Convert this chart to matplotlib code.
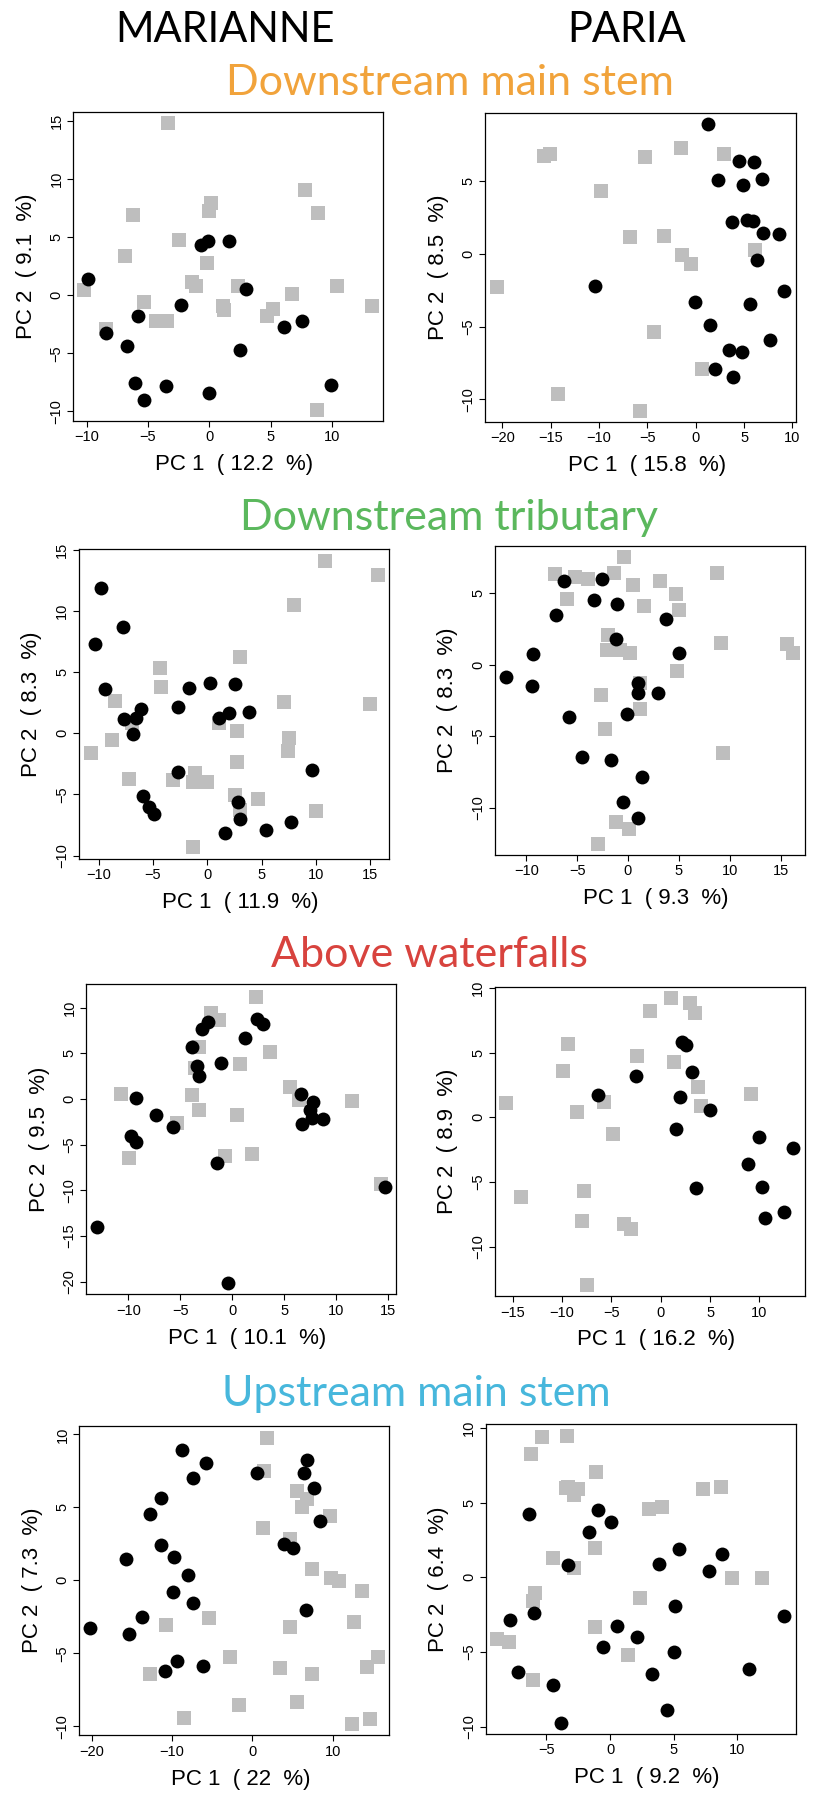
import matplotlib
matplotlib.use('Agg')
import matplotlib.pyplot as plt
from matplotlib.ticker import MultipleLocator

# ---- data: PCA scores (gray squares / black circles) ----
# Marianne, downstream main stem
mar_dms_sq_x = [-3.41, 7.79, 8.86, 0.11, -0.05, -6.19, -2.48, -6.84, -0.22, -1.39, -1.09, 2.32, -10.19,
                10.41, 6.73, -5.37, 1.09, 1.20, 13.27, 5.18, 4.69, -8.47, -4.39, -3.49, 8.77]
mar_dms_sq_y = [14.81, 9.05, 7.05, 7.88, 7.25, 6.88, 4.73, 3.38, 2.75, 1.09, 0.77, 0.77, 0.43,
                0.77, 0.09, -0.60, -0.92, -1.29, -0.95, -1.17, -1.78, -2.95, -2.23, -2.23, -9.89]
mar_dms_ci_x = [-9.92, -0.65, -0.11, 1.58, 2.97, -2.34, -5.80, -8.45, -6.73, -6.08, -5.37, -3.54, 0.00,
                2.53, 6.13, 7.55, 9.92]
mar_dms_ci_y = [1.38, 4.30, 4.64, 4.67, 0.54, -0.89, -1.81, -3.27, -4.41, -7.54, -9.03, -7.79, -8.40,
                -4.76, -2.75, -2.23, -7.74]

# Paria, downstream main stem
par_dms_sq_x = [-15.69, -15.10, -5.24, -1.52, 2.93, -9.83, -6.83, -3.31, -1.41, -0.52, 6.10, -20.55,
                -4.34, 0.66, -14.24, -5.76]
par_dms_sq_y = [6.77, 6.88, 6.67, 7.29, 6.90, 4.36, 1.19, 1.26, -0.05, -0.67, 0.28, -2.25,
                -5.37, -7.89, -9.61, -10.78]
par_dms_ci_x = [1.24, 4.45, 6.07, 2.34, 4.93, 6.86, 3.79, 5.28, 5.97, 6.97, 8.66, 6.38, -10.41, 9.14,
                -0.10, 5.59, 1.52, 7.66, 3.48, 4.79, 2.00, 3.83]
par_dms_ci_y = [8.97, 6.40, 6.31, 5.07, 4.77, 5.14, 2.20, 2.34, 2.27, 1.44, 1.40, -0.44, -2.20, -2.52,
                -3.30, -3.44, -4.89, -5.92, -6.63, -6.77, -7.91, -8.46]

# Marianne, downstream tributary
mar_dt_sq_x = [10.83, 15.67, 7.94, 2.98, -4.39, -4.29, -8.53, 7.06, 14.94, 1.04, -6.96, 2.70, -8.77,
               7.48, 7.39, -10.74, 2.70, -7.21, -3.19, -1.13, -1.29, -0.06, 2.55, 4.63, 3.04, 9.97, -1.35]
mar_dt_sq_y = [14.11, 12.94, 10.49, 6.27, 5.34, 3.79, 2.64, 2.59, 2.43, 0.82, 0.87, 0.22, -0.54,
               -0.35, -1.47, -1.58, -2.32, -3.71, -3.81, -3.27, -4.01, -4.01, -5.04, -5.34, -6.27, -6.35, -9.26]
mar_dt_ci_x = [-9.75, -7.79, -10.37, -9.45, -6.10, -6.53, -7.70, -6.84, -2.67, -1.66, 0.28, 2.58, 1.10,
               1.96, 3.80, -2.73, -5.89, -5.34, -4.94, 9.66, 2.85, 2.98, 1.66, 5.37, 7.70]
mar_dt_ci_y = [11.88, 8.66, 7.30, 3.60, 1.99, 1.25, 1.14, -0.08, 2.13, 3.71, 4.09, 4.06, 1.23,
               1.69, 1.77, -3.16, -5.15, -5.99, -6.62, -3.02, -5.61, -6.98, -8.12, -7.87, -7.28]

# Paria, downstream tributary
par_dt_sq_x = [-0.43, -7.18, -5.25, -3.97, -1.41, 8.75, 3.11, 0.46, 4.72, -6.03, 1.54, 4.98, -1.97, 9.15,
               15.64, 16.23, -2.03, -0.79, 0.16, 4.79, 1.18, -2.66, 1.18, -2.26, 9.31, -1.18, 0.10, -2.95]
par_dt_sq_y = [7.53, 6.34, 6.13, 6.01, 6.43, 6.43, 5.85, 5.55, 4.94, 4.57, 4.10, 3.85, 2.07, 1.52,
               1.45, 0.84, 1.03, 1.03, 0.82, -0.44, -1.26, -2.12, -3.08, -4.50, -6.18, -10.98, -11.52, -12.52]
par_dt_ci_x = [-6.30, -2.59, -3.31, -1.11, -7.08, 3.77, -1.18, -9.38, 5.05, -12.0, -9.41, 0.95, 0.98,
               2.92, -5.77, -0.13, -4.52, -1.64, 1.41, -0.52, 0.98]
par_dt_ci_y = [5.83, 6.01, 4.55, 4.24, 3.45, 3.17, 1.79, 0.72, 0.79, -0.86, -1.47, -1.26, -2.00,
               -1.96, -3.66, -3.43, -6.46, -6.64, -7.86, -9.60, -10.75]

# Marianne, above waterfalls
mar_aw_sq_x = [2.28, -2.05, -1.25, -3.21, 3.62, 0.74, -3.59, 5.51, -10.71, -3.88, 6.44, 11.47, -3.21,
               0.42, -5.35, -9.94, -0.71, 1.89, 14.26]
mar_aw_sq_y = [11.17, 9.45, 8.65, 5.69, 5.15, 3.87, 3.36, 1.31, 0.58, 0.44, -0.07, -0.18, -1.20,
               -1.72, -2.59, -6.46, -6.24, -5.99, -9.34]
mar_aw_ci_x = [-2.37, -2.92, 2.34, 2.98, 1.22, -3.85, -3.40, -3.17, -1.06, -9.29, -7.34, -5.74, -9.78,
               -9.26, 6.63, 7.72, 7.50, 7.66, 8.72, 6.73, -1.47, 14.68, -12.98, -0.45]
mar_aw_ci_y = [8.47, 7.66, 8.80, 8.18, 6.72, 5.69, 3.61, 2.55, 3.98, 0.11, -1.79, -3.03, -4.09,
               -4.67, 0.55, -0.29, -1.17, -2.04, -2.15, -2.70, -7.04, -9.64, -14.05, -20.15]

# Paria, above waterfalls
par_aw_sq_x = [1.05, 2.94, 3.45, -1.08, -9.39, -2.40, 1.35, -9.90, 3.78, 9.16, -15.68, -5.78, -8.48,
               4.09, -4.83, -7.77, -14.16, -7.97, -3.72, -3.04, -7.47]
par_aw_sq_y = [9.23, 8.87, 8.09, 8.22, 5.67, 4.74, 4.28, 3.58, 2.35, 1.83, 1.13, 1.21, 0.41,
               0.90, -1.29, -5.67, -6.16, -7.99, -8.25, -8.61, -12.94]
par_aw_ci_x = [2.13, 2.53, 3.14, -2.50, -6.32, 1.96, 5.00, 1.59, 10.0, 13.45, 8.85, 3.58, 10.30, 12.50, 10.54]
par_aw_ci_y = [5.85, 5.59, 3.51, 3.17, 1.73, 1.55, 0.54, -0.88, -1.52, -2.35, -3.63, -5.46, -5.41, -7.29, -7.78]

# Marianne, upstream main stem
mar_ums_sq_x = [1.83, 1.41, 5.52, 6.80, 6.14, 9.67, 1.29, 4.69, 7.39, 9.79, 10.75, 13.61, -5.44, -10.79,
                4.69, 12.61, -2.82, 15.64, 14.23, 3.40, 7.39, -12.74, -1.66, 5.52, -8.55, 12.37, 14.61]
mar_ums_sq_y = [9.77, 7.49, 6.12, 5.59, 5.05, 4.38, 3.58, 2.85, 0.78, 0.14, -0.02, -0.71, -2.56, -3.06,
                -3.20, -2.83, -5.23, -5.23, -5.91, -6.00, -6.39, -6.44, -8.52, -8.33, -9.43, -9.84, -9.52]
mar_ums_ci_x = [-8.80, -5.73, -7.34, 0.62, 6.85, 6.47, 7.68, -11.33, -12.78, 8.42, 3.94, 5.06, -11.33,
                -9.75, -15.77, -8.05, -9.83, -7.43, 6.64, -13.78, -20.17, -15.31, -9.38, -10.83, -6.18]
mar_ums_ci_y = [8.95, 8.06, 7.01, 7.37, 8.26, 7.37, 6.35, 5.64, 4.57, 4.04, 2.51, 2.19, 2.40,
                1.60, 1.48, 0.39, -0.78, -1.53, -2.05, -2.53, -3.26, -3.65, -5.53, -6.23, -5.87]

# Paria, upstream main stem
par_ums_sq_x = [-5.37, -3.38, -6.20, -1.10, -3.27, -2.49, -2.85, -3.48, 3.09, 4.06, 7.28, 8.69, -1.20,
                -4.50, -2.85, 9.58, 11.94, -5.89, -6.02, 2.33, -1.20, -8.87, -7.93, 1.41, -6.07]
par_ums_sq_y = [9.40, 9.46, 8.24, 7.05, 6.07, 5.89, 5.51, 5.96, 4.60, 4.71, 5.94, 6.07, 1.96,
                1.29, 0.63, -0.04, -0.04, -1.07, -1.56, -1.38, -3.30, -4.11, -4.33, -5.18, -6.88]
par_ums_ci_x = [-6.36, -0.97, 0.08, -1.62, -3.32, 5.39, 3.85, 8.82, 7.75, 5.10, -5.99, -7.85, 13.66,
                0.52, 2.15, -0.55, 5.00, 10.89, -7.23, 3.30, -4.50, 4.50, -3.87]
par_ums_ci_y = [4.26, 4.49, 3.73, 3.01, 0.80, 1.90, 0.89, 1.58, 0.42, -1.94, -2.37, -2.83, -2.59,
                -3.24, -3.97, -4.67, -5.02, -6.16, -6.34, -6.50, -7.23, -8.91, -9.73]

pc1_pct = ['12.2', '15.8', '11.9', '9.3', '10.1', '16.2', '22', '9.2']
pc2_pct = ['9.1', '8.5', '8.3', '8.3', '9.5', '8.9', '7.3', '6.4']

rivers = ['MARIANNE', 'PARIA']
habitats = ['Downstream main stem', 'Downstream tributary', 'Above waterfalls', 'Upstream main stem']
habitat_colors = ['#F1A33B', '#5BB85D', '#D8433E', '#47B7DC']

W, H = 816, 1794
AXFONT = ['Liberation Sans', 'DejaVu Sans']
TITLEFONT = ['Lato', 'DejaVu Sans']


def add_panel(fig, box, sq_x, sq_y, ci_x, ci_y, xlim, ylim, xstep, ystep, p1, p2):
    # box in pixels: left, top, right, bottom
    x0, y0, x1, y1 = box
    ax = fig.add_axes([x0 / W, 1 - y1 / H, (x1 - x0) / W, (y1 - y0) / H])
    ax.plot(sq_x, sq_y, 's', color='#BEBEBE', ms=9.6, mew=0, zorder=2)
    ax.plot(ci_x, ci_y, 'o', color='black', ms=10, mew=0, zorder=3)
    ax.set_xlim(xlim)
    ax.set_ylim(ylim)
    ax.xaxis.set_major_locator(MultipleLocator(xstep))
    ax.yaxis.set_major_locator(MultipleLocator(ystep))
    for s in ax.spines.values():
        s.set_linewidth(0.9)
    ax.tick_params(length=4, width=0.8, labelsize=10.5, pad=3)
    for lab in ax.get_xticklabels() + ax.get_yticklabels():
        lab.set_family(AXFONT)
    plt.setp(ax.get_yticklabels(), rotation=90, va='center')
    ax.set_xlabel('PC 1  ( ' + p1 + '  %)', fontsize=16, family=AXFONT, va='center')
    ax.set_ylabel('PC 2  ( ' + p2 + '  %)', fontsize=16, family=AXFONT, va='center')
    ax.xaxis.set_label_coords(0.52, -44 / (y1 - y0))
    ax.yaxis.set_label_coords(-47 / (x1 - x0), 0.5)
    return ax


fig = plt.figure(figsize=(W / 100, H / 100), dpi=100)

add_panel(fig, (73.3, 111.7, 383.3, 420.7), mar_dms_sq_x, mar_dms_sq_y, mar_dms_ci_x, mar_dms_ci_y,
          (-11.1, 14.2), (-10.8, 15.76), 5, 5, pc1_pct[0], pc2_pct[0])
add_panel(fig, (485.3, 112.7, 795.7, 421.7), par_dms_sq_x, par_dms_sq_y, par_dms_ci_x, par_dms_ci_y,
          (-21.76, 10.34), (-11.54, 9.72), 5, 5, pc1_pct[1], pc2_pct[1])
add_panel(fig, (79.0, 549.3, 389.0, 858.7), mar_dt_sq_x, mar_dt_sq_y, mar_dt_ci_x, mar_dt_ci_y,
          (-11.81, 16.72), (-10.25, 15.04), 5, 5, pc1_pct[2], pc2_pct[2])
add_panel(fig, (494.7, 545.7, 804.7, 854.7), par_dt_sq_x, par_dt_sq_y, par_dt_ci_x, par_dt_ci_y,
          (-13.11, 17.38), (-13.29, 8.32), 5, 5, pc1_pct[3], pc2_pct[3])
add_panel(fig, (86.3, 984.3, 396.3, 1294.0), mar_aw_sq_x, mar_aw_sq_y, mar_aw_ci_x, mar_aw_ci_y,
          (-14.04, 15.77), (-21.35, 12.55), 5, 5, pc1_pct[4], pc2_pct[4])
add_panel(fig, (494.7, 986.7, 804.7, 1296.0), par_aw_sq_x, par_aw_sq_y, par_aw_ci_x, par_aw_ci_y,
          (-16.82, 14.59), (-13.81, 10.10), 5, 5, pc1_pct[5], pc2_pct[5])
add_panel(fig, (79.3, 1426.0, 389.0, 1735.3), mar_ums_sq_x, mar_ums_sq_y, mar_ums_ci_x, mar_ums_ci_y,
          (-21.54, 17.01), (-10.62, 10.57), 10, 5, pc1_pct[6], pc2_pct[6])
add_panel(fig, (485.7, 1424.3, 795.7, 1733.7), par_ums_sq_x, par_ums_sq_y, par_ums_ci_x, par_ums_ci_y,
          (-9.76, 14.58), (-10.47, 10.25), 5, 5, pc1_pct[7], pc2_pct[7])

# column headers
fig.text(225 / W, 1 - 41.7 / H, rivers[0], ha='center', va='baseline', fontsize=30, family=TITLEFONT)
fig.text(627 / W, 1 - 41.7 / H, rivers[1], ha='center', va='baseline', fontsize=30, family=TITLEFONT)

# habitat titles (center x, baseline y in pixels)
title_pos = [(450, 95), (448.5, 530), (429, 966.7), (416.7, 1405.7)]
for name, col, (tx, ty) in zip(habitats, habitat_colors, title_pos):
    fig.text(tx / W, 1 - ty / H, name, ha='center', va='baseline', fontsize=31,
             family=TITLEFONT, color=col)

fig.savefig('out.png', dpi=100)
